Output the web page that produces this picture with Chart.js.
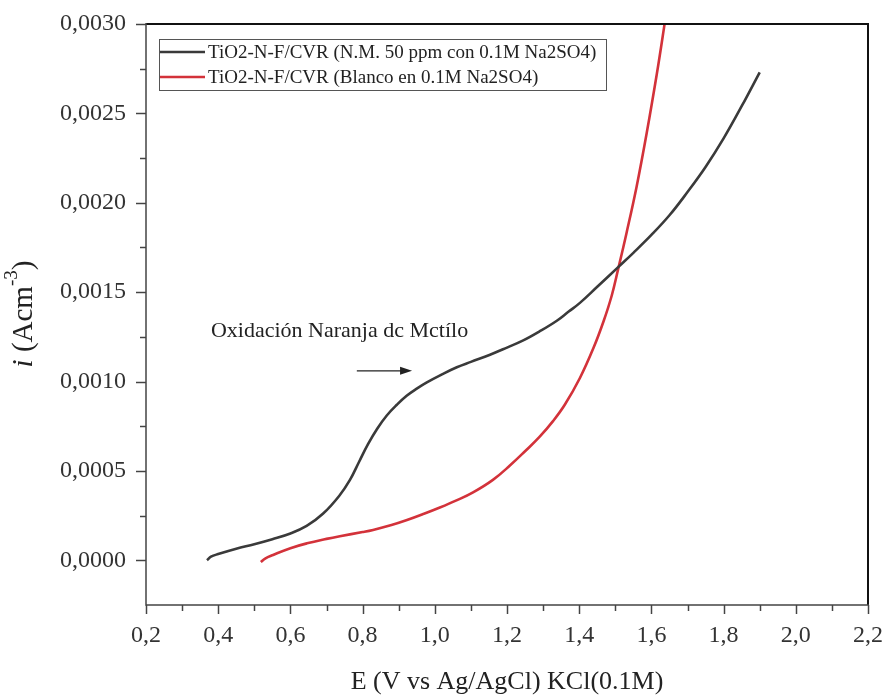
<!DOCTYPE html>
<html>
<head>
<meta charset="utf-8">
<script src="https://cdn.jsdelivr.net/npm/chart.js@4.4.1/dist/chart.umd.min.js"></script>
<style>
  html, body { margin: 0; padding: 0; background: #ffffff; }
  canvas { display: block; }
</style>
</head>
<body>
<canvas id="chart" width="887" height="700"></canvas>
<script>
// Linear sweep: TiO2-N-F/CVR electrode with methyl orange (50 ppm) in 0.1 M Na2SO4
const potentialNM = [0.369, 0.38, 0.40, 0.45, 0.50, 0.55, 0.60, 0.645, 0.69, 0.735, 0.765, 0.79, 0.815, 0.84, 0.867,
  0.895, 0.922, 0.95, 0.978, 1.02, 1.061, 1.10, 1.153, 1.20, 1.245, 1.29, 1.338, 1.37, 1.402, 1.45, 1.508,
  1.55, 1.60, 1.65, 1.70, 1.75, 1.80, 1.85, 1.90];
const currentNM = [0.0, 0.00002, 0.000035, 0.000065, 0.00009, 0.000118, 0.00015, 0.000192, 0.00026, 0.00036, 0.00045,
  0.00055, 0.00065, 0.000735, 0.00081, 0.00087, 0.00092, 0.00096, 0.000995, 0.00104, 0.00108, 0.00111, 0.00115,
  0.00119, 0.00123, 0.00128, 0.00134, 0.00139, 0.00144, 0.00153, 0.00164, 0.00172, 0.00182, 0.00193, 0.00206,
  0.0022, 0.00236, 0.00254, 0.00273];

// Blank: same electrode in 0.1 M Na2SO4 only
const potentialBlank = [0.518, 0.53, 0.552, 0.60, 0.646, 0.70, 0.737, 0.80, 0.829, 0.88, 0.923, 0.97, 1.014, 1.06,
  1.106, 1.161, 1.208, 1.25, 1.29, 1.328, 1.36, 1.402, 1.44, 1.468, 1.49, 1.508, 1.531, 1.559, 1.587, 1.615,
  1.635, 1.645];
const currentBlank = [-0.00001, 0.00001, 0.00003, 0.000068, 0.000095, 0.00012, 0.000135, 0.000158, 0.00017, 0.000197,
  0.000225, 0.00026, 0.000295, 0.000335, 0.00038, 0.00045, 0.00053, 0.00061, 0.00069, 0.00078, 0.00087, 0.00102,
  0.00119, 0.00134, 0.00148, 0.00163, 0.00183, 0.00209, 0.00239, 0.00272, 0.00298, 0.00312];

const seriesLabels = [
  'TiO2-N-F/CVR (N.M. 50 ppm con 0.1M Na2SO4)',
  'TiO2-N-F/CVR (Blanco en 0.1M Na2SO4)'
];
const seriesColors = ['#3a3a3a', '#d3323a'];

const xTickLabels = ['0,2', '0,4', '0,6', '0,8', '1,0', '1,2', '1,4', '1,6', '1,8', '2,0', '2,2'];
const yTickLabels = ['0,0000', '0,0005', '0,0010', '0,0015', '0,0020', '0,0025', '0,0030'];

const xTitle = 'E (V vs Ag/AgCl) KCl(0.1M)';
const annotationText = 'Oxidación Naranja dc Mctílo';

const SERIF = '"Liberation Serif", "DejaVu Serif", serif';
const Y_STEP = 0.00025;

function toPoints(xs, ys) {
  return xs.map((x, i) => ({ x: x, y: ys[i] }));
}

// Frame, tick marks, legend box, axis titles and the annotation arrow
const decorations = {
  id: 'decorations',
  afterDraw(chart) {
    const ctx = chart.ctx;
    const a = chart.chartArea;
    const xs = chart.scales.x;
    const ys = chart.scales.y;
    ctx.save();

    // frame
    ctx.lineCap = 'butt';
    ctx.strokeStyle = '#111';
    ctx.lineWidth = 2;
    ctx.beginPath();
    ctx.moveTo(a.left, a.top); ctx.lineTo(a.right, a.top); ctx.lineTo(a.right, a.bottom);
    ctx.stroke();
    ctx.strokeStyle = '#444';
    ctx.lineWidth = 1.5;
    ctx.beginPath();
    ctx.moveTo(a.left, a.top - 1); ctx.lineTo(a.left, a.bottom); ctx.lineTo(a.right + 1, a.bottom);
    ctx.stroke();

    // tick marks (major every other tick)
    ctx.lineWidth = 1.5;
    xs.ticks.forEach((t, i) => {
      const px = Math.round(xs.getPixelForValue(t.value)) + 0.5;
      const len = i % 2 === 0 ? 9 : 6;
      ctx.beginPath(); ctx.moveTo(px, a.bottom); ctx.lineTo(px, a.bottom + len); ctx.stroke();
    });
    ys.ticks.forEach((t) => {
      const k = Math.round(t.value / Y_STEP);
      if (k < 0) return;
      const py = Math.round(ys.getPixelForValue(t.value)) + 0.5;
      const len = k % 2 === 0 ? 10 : 6;
      ctx.beginPath(); ctx.moveTo(a.left, py); ctx.lineTo(a.left - len, py); ctx.stroke();
    });

    // legend
    const lx = 159, ly = 39, lw = 447, lh = 51;
    ctx.strokeStyle = '#555';
    ctx.lineWidth = 1;
    ctx.strokeRect(lx + 0.5, ly + 0.5, lw, lh);
    ctx.font = '19px ' + SERIF;
    ctx.textBaseline = 'middle';
    ctx.textAlign = 'left';
    chart.data.datasets.forEach((ds, i) => {
      const yy = ly + 13 + i * 25;
      ctx.strokeStyle = ds.borderColor;
      ctx.lineWidth = 2.5;
      ctx.beginPath(); ctx.moveTo(lx + 1, yy); ctx.lineTo(lx + 46, yy); ctx.stroke();
      ctx.fillStyle = '#222';
      ctx.fillText(ds.label, lx + 49, yy + 1);
    });

    // annotation text and arrow
    ctx.fillStyle = '#222';
    ctx.font = '22px ' + SERIF;
    ctx.textBaseline = 'alphabetic';
    ctx.fillText(annotationText, xs.getPixelForValue(0.38), ys.getPixelForValue(0.00125));
    const ax0 = xs.getPixelForValue(0.784), ax1 = xs.getPixelForValue(0.937);
    const ay = ys.getPixelForValue(0.00106);
    ctx.strokeStyle = '#222';
    ctx.lineWidth = 1.3;
    ctx.beginPath(); ctx.moveTo(ax0, ay); ctx.lineTo(ax1 - 8, ay); ctx.stroke();
    ctx.beginPath();
    ctx.moveTo(ax1, ay); ctx.lineTo(ax1 - 12, ay - 4); ctx.lineTo(ax1 - 12, ay + 4); ctx.closePath();
    ctx.fill();

    // x axis title
    ctx.fillStyle = '#222';
    ctx.font = '26px ' + SERIF;
    ctx.textAlign = 'center';
    ctx.textBaseline = 'middle';
    ctx.fillText(xTitle, (a.left + a.right) / 2, 682);

    // y axis title: italic i, (Acm^-3)
    ctx.translate(24, 314);
    ctx.rotate(-Math.PI / 2);
    ctx.textAlign = 'left';
    const fMain = '29px ' + SERIF, fItal = 'italic 29px ' + SERIF, fSup = '19px ' + SERIF;
    const parts = [
      { t: 'i', f: fItal, dy: 0 },
      { t: ' (Acm', f: fMain, dy: 0 },
      { t: '-3', f: fSup, dy: -12 },
      { t: ')', f: fMain, dy: 0 }
    ];
    let total = 0;
    parts.forEach(p => { ctx.font = p.f; p.w = ctx.measureText(p.t).width; total += p.w; });
    let cx = -total / 2;
    parts.forEach(p => { ctx.font = p.f; ctx.fillText(p.t, cx, p.dy); cx += p.w; });

    ctx.restore();
  }
};

new Chart(document.getElementById('chart'), {
  type: 'scatter',
  data: {
    datasets: [
      {
        label: seriesLabels[0],
        data: toPoints(potentialNM, currentNM),
        borderColor: seriesColors[0],
        backgroundColor: seriesColors[0],
        showLine: true, pointRadius: 0, borderWidth: 2.6,
        tension: 0.4
      },
      {
        label: seriesLabels[1],
        data: toPoints(potentialBlank, currentBlank),
        borderColor: seriesColors[1],
        backgroundColor: seriesColors[1],
        showLine: true, pointRadius: 0, borderWidth: 2.6,
        tension: 0.4
      }
    ]
  },
  options: {
    responsive: false,
    animation: false,
    events: [],
    layout: { padding: { left: 0, top: 24, right: 19, bottom: 0 } },
    plugins: { legend: { display: false }, tooltip: { enabled: false } },
    scales: {
      x: {
        type: 'linear', min: 0.2, max: 2.2,
        afterFit(scale) { scale.height = 95; scale.paddingLeft = 0; scale.paddingRight = 0; },
        border: { display: false },
        grid: { display: false, drawTicks: false },
        ticks: {
          stepSize: 0.1, autoSkip: false, maxRotation: 0, padding: 16,
          color: '#333', font: { family: SERIF, size: 24 },
          callback: (v, i) => (i % 2 === 0 ? xTickLabels[i / 2] : '')
        }
      },
      y: {
        type: 'linear', min: -0.00025, max: 0.003,
        afterFit(scale) { scale.width = 146; scale.paddingTop = 0; scale.paddingBottom = 0; },
        border: { display: false },
        grid: { display: false, drawTicks: false },
        ticks: {
          stepSize: Y_STEP, autoSkip: false, padding: 20,
          color: '#333', font: { family: SERIF, size: 24 },
          callback: (v) => {
            const k = Math.round(v / Y_STEP);
            return (k >= 0 && k % 2 === 0) ? yTickLabels[k / 2] : '';
          }
        }
      }
    }
  },
  plugins: [decorations]
});
</script>
</body>
</html>
